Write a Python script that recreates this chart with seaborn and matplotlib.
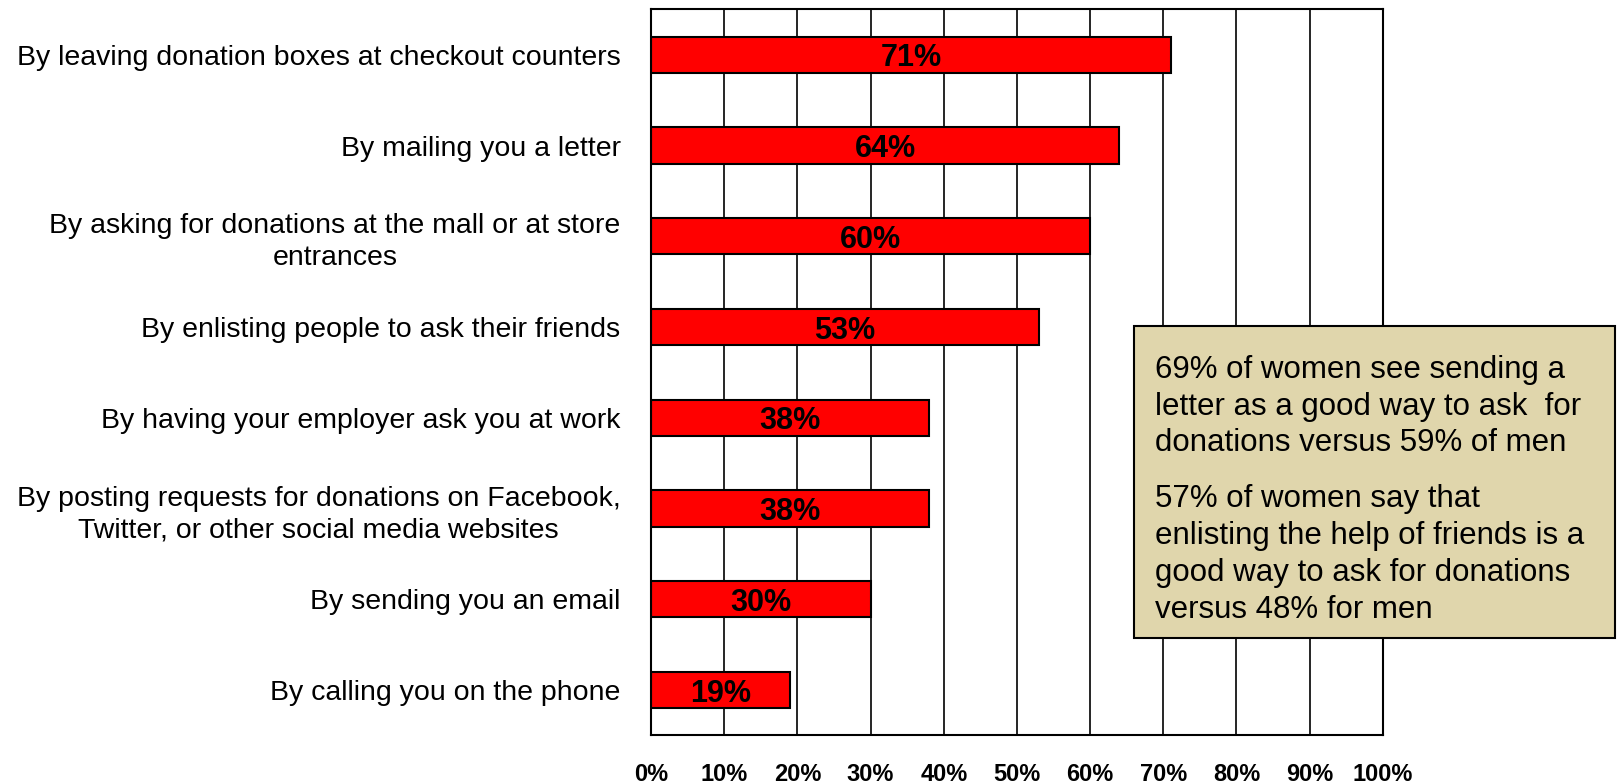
import numpy as np
import matplotlib
matplotlib.use("Agg")
import matplotlib.pyplot as plt
from matplotlib.patches import Rectangle
import seaborn as sns

# DATA
categorias = [
    "By leaving donation boxes at checkout counters",
    "By mailing you a letter",
    "By asking for donations at the mall or at store\nentrances",
    "By enlisting people to ask their friends",
    "By having your employer ask you at work",
    "By posting requests for donations on Facebook,\nTwitter, or other social media websites",
    "By sending you an email",
    "By calling you on the phone",
]
valores = [71, 64, 60, 53, 38, 38, 30, 19]
xticks = [0, 10, 20, 30, 40, 50, 60, 70, 80, 90, 100]
nota_1 = "69% of women see sending a\nletter as a good way to ask  for\ndonations versus 59% of men"
nota_2 = "57% of women say that\nenlisting the help of friends is a\ngood way to ask for donations\nversus 48% for men"

sns.set_style("white")
plt.rcParams['font.family'] = ['Liberation Sans', 'DejaVu Sans']
plt.rcParams['text.color'] = 'black'
plt.rcParams['xtick.color'] = 'black'
plt.rcParams['ytick.color'] = 'black'
plt.rcParams['axes.labelcolor'] = 'black'

fig = plt.figure(figsize=(16.2, 7.83), dpi=100)
ax = fig.add_axes([0.4019, 0.0607, 0.4517, 0.9273])

# grid first, bars over it
ax.set_axisbelow(True)
ax.xaxis.grid(True, color='black', linewidth=1.2)

sns.barplot(x=valores, y=categorias, orient='h', color='#FF0000',
            edgecolor='black', linewidth=1.5, width=0.4, ax=ax, saturation=1)

rotulos = ax.bar_label(ax.containers[0], labels=[f"{v}%" for v in valores],
                       label_type='center', fontsize=22, fontweight='bold', color='black')
for r in rotulos:
    r.set_va('center_baseline')

ax.set_xlim(0, 100)
ax.set_xticks(xticks)
ax.set_xticklabels([f"{t}%" for t in xticks], fontsize=17, fontweight='bold')
ax.tick_params(axis='x', direction='out', length=6, width=1.2, pad=14, color='black')

ax.set_yticks(range(len(categorias)))
ax.set_yticklabels(categorias, fontsize=20.5)
for lab in ax.get_yticklabels():
    lab.set_multialignment('center')
    lab.set_linespacing(1.3)
ax.set_yticks(np.arange(-0.5, len(categorias), 1), minor=True)
ax.tick_params(axis='y', which='major', length=0, pad=22)
ax.tick_params(axis='y', which='minor', direction='out', length=6, width=1.2, color='black')

for s in ax.spines.values():
    s.set_visible(True)
    s.set_color('black')
    s.set_linewidth(1.5)

ax.set_xlabel("")
ax.set_ylabel("")

# CAIXA DE TEXTO
fig.patches.append(Rectangle((0.700, 0.1852), 0.2969, 0.3985, transform=fig.transFigure,
                             facecolor='#E0D6AC', edgecolor='black', linewidth=1.5, zorder=5))
fig.text(0.713, 0.547, nota_1, fontsize=22.5, va='top', ha='left', linespacing=1.3, zorder=6)
fig.text(0.713, 0.382, nota_2, fontsize=22.5, va='top', ha='left', linespacing=1.3, zorder=6)

fig.savefig("out.png", dpi=100)
